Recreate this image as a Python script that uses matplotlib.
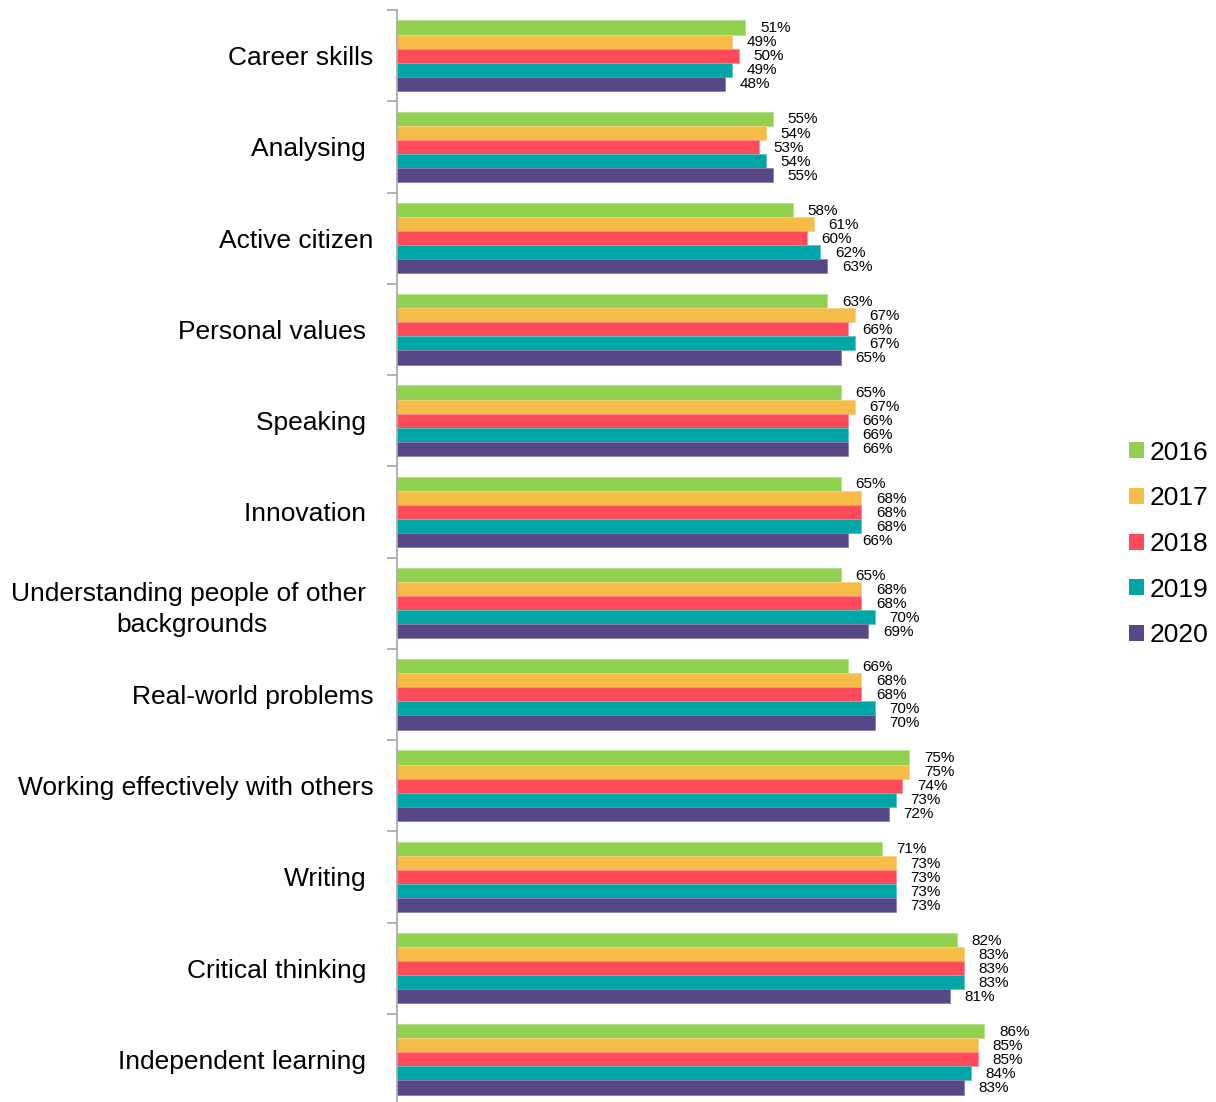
import numpy as np
import matplotlib.pyplot as plt
from matplotlib.patches import Patch

plt.rcParams['font.family'] = ['Liberation Sans', 'DejaVu Sans']

# Dữ liệu
categories = ['Career skills', 'Analysing ', 'Active citizen', 'Personal values ', 'Speaking ',
              'Innovation ', 'Understanding people of other \nbackgrounds', 'Real-world problems',
              'Working effectively with others', 'Writing ', 'Critical thinking ', 'Independent learning ']
years = ['2016', '2017', '2018', '2019', '2020']
v2016 = [51, 55, 58, 63, 65, 65, 65, 66, 75, 71, 82, 86]
v2017 = [49, 54, 61, 67, 67, 68, 68, 68, 75, 73, 83, 85]
v2018 = [50, 53, 60, 66, 66, 68, 68, 68, 74, 73, 83, 85]
v2019 = [49, 54, 62, 67, 66, 68, 70, 70, 73, 73, 83, 84]
v2020 = [48, 55, 63, 65, 66, 66, 69, 70, 72, 73, 81, 83]
series = [v2016, v2017, v2018, v2019, v2020]
colors = ['#92D050', '#F5BC47', '#FF4A5A', '#00A5A5', '#574786']
edges = ['#B5E08A', '#F8D080', '#FF8A94', '#5CC4C4', '#8A7EAE']

fig = plt.figure(figsize=(12.16, 11.02), dpi=100)
ax = fig.add_axes([397 / 1216, -3 / 1102, 683 / 1216, 1095 / 1102])

n = len(categories)
y = np.arange(n)
h = 0.154
for i, vals in enumerate(series):
    pos = y + (i - 2) * h
    ax.barh(pos, vals, height=h, color=colors[i], edgecolor=edges[i], linewidth=0.6)
    for yy, v in zip(pos, vals):
        ax.annotate(f'{v}%', xy=(v, yy), xytext=(10.5, -0.5), textcoords='offset points',
                    ha='left', va='center', fontsize=11)

ax.set_xlim(0, 100)
ax.set_ylim(n - 0.5, -0.5)
ax.set_yticks(y)
ax.set_yticklabels(categories, fontsize=19, multialignment='center')
for lab in ax.get_yticklabels():
    lab.set_linespacing(1.4)
    lab.set_y(lab.get_position()[1])
ax.tick_params(axis='y', which='major', length=0, pad=17)
ax.set_yticks(np.arange(n + 1) - 0.5, minor=True)
ax.tick_params(axis='y', which='minor', length=7.2, width=1.2, color='#A6A6A6')
ax.set_xticks([])
for s in ['top', 'right', 'bottom']:
    ax.spines[s].set_visible(False)
ax.spines['left'].set_color('#A6A6A6')
ax.spines['left'].set_linewidth(1.2)

handles = [Patch(facecolor=c) for c in colors]
fig.legend(handles, years, loc='center left', bbox_to_anchor=(1129 / 1216, 1 - 544 / 1102),
           frameon=False, fontsize=19, handlelength=0.55, handleheight=0.55, handletextpad=0.25,
           labelspacing=0.82, borderpad=0, borderaxespad=0)

fig.savefig('out.png', dpi=100)
